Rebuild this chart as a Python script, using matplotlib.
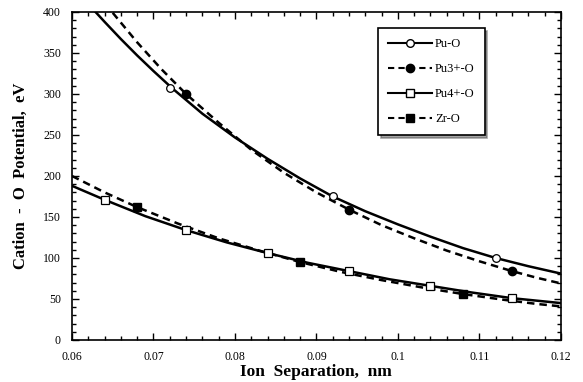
import matplotlib
matplotlib.use("Agg")
import matplotlib.pyplot as plt
from matplotlib.ticker import MultipleLocator, FixedFormatter, FixedLocator

# curve points
puo_x = [0.0628, 0.064, 0.066, 0.068, 0.070, 0.0723, 0.076, 0.080, 0.084, 0.088, 0.092, 0.096, 0.100, 0.104, 0.108, 0.112, 0.116, 0.120]
puo_y = [401, 388, 367, 347, 328, 307, 276, 247, 221, 197, 175, 157, 141, 126, 112, 100, 90, 81]
pu3_x = [0.065, 0.068, 0.071, 0.074, 0.078, 0.082, 0.086, 0.090, 0.094, 0.098, 0.102, 0.106, 0.110, 0.114, 0.117, 0.120]
pu3_y = [399, 363, 330, 300, 265, 232, 204, 180, 159, 140, 124, 109, 96, 84, 76, 69]
pu4_x = [0.060, 0.064, 0.069, 0.074, 0.079, 0.084, 0.089, 0.094, 0.099, 0.104, 0.109, 0.114, 0.117, 0.120]
pu4_y = [188, 171, 151, 134, 119, 106, 94, 84, 74, 66, 58, 51, 48, 45]
zro_x = [0.060, 0.064, 0.068, 0.073, 0.078, 0.083, 0.088, 0.093, 0.098, 0.103, 0.108, 0.113, 0.117, 0.120]
zro_y = [200, 180, 162, 142, 124, 109, 95, 83, 73, 64, 56, 49, 44, 41]

# marker positions
puo_mx = [0.072, 0.092, 0.112]
puo_my = [307, 175, 100]
pu3_mx = [0.074, 0.094, 0.114]
pu3_my = [300, 159, 84]
pu4_mx = [0.064, 0.074, 0.084, 0.094, 0.104, 0.114]
pu4_my = [171, 134, 106, 84, 66, 51]
zro_mx = [0.068, 0.088, 0.108]
zro_my = [162, 95, 56]

labels = ["Pu-O", "Pu3+-O", "Pu4+-O", "Zr-O"]
xticks = [0.06, 0.07, 0.08, 0.09, 0.10, 0.11, 0.12]
xticklabels = ["0.06", "0.07", "0.08", "0.09", "0.1", "0.11", "0.12"]
yticks = [0, 50, 100, 150, 200, 250, 300, 350, 400]

plt.rcParams['font.family'] = ['Liberation Serif', 'DejaVu Serif']

fig = plt.figure(figsize=(5.83, 3.82), dpi=100)
ax = fig.add_axes([0.1235, 0.11, 0.8385, 0.8586])

lw = 1.8
ax.plot(puo_x, puo_y, '-', color='black', lw=lw)
ax.plot(pu3_x, pu3_y, '--', color='black', lw=lw, dashes=(3, 2))
ax.plot(pu4_x, pu4_y, '-', color='black', lw=lw)
ax.plot(zro_x, zro_y, '--', color='black', lw=lw, dashes=(3, 2))

ax.plot(puo_mx, puo_my, 'o', mfc='white', mec='black', ms=5.5, mew=0.9, ls='none')
ax.plot(pu3_mx, pu3_my, 'o', mfc='black', mec='black', ms=6, ls='none')
ax.plot(pu4_mx, pu4_my, 's', mfc='white', mec='black', ms=5.5, mew=0.9, ls='none')
ax.plot(zro_mx, zro_my, 's', mfc='black', mec='black', ms=5.5, ls='none')

# legend handles
h1, = ax.plot([], [], '-', color='black', lw=1.5, marker='o', mfc='white', mec='black', ms=5.5)
h2, = ax.plot([], [], '--', color='black', lw=1.5, dashes=(3, 2), marker='o', mfc='black', ms=6)
h3, = ax.plot([], [], '-', color='black', lw=1.5, marker='s', mfc='white', mec='black', ms=5.5)
h4, = ax.plot([], [], '--', color='black', lw=1.5, dashes=(3, 2), marker='s', mfc='black', ms=5.5)
leg = ax.legend([h1, h2, h3, h4], labels, loc='upper left', bbox_to_anchor=(0.626, 0.951),
                borderaxespad=0, numpoints=1, handlelength=3.5, labelspacing=1.05, fontsize=9,
                fancybox=False, shadow=True, framealpha=1, borderpad=0.8, handletextpad=0.25)
leg.get_frame().set_edgecolor('black')
leg.get_frame().set_linewidth(1.2)

ax.set_xlim(0.06, 0.12)
ax.set_ylim(0, 400)
ax.xaxis.set_major_locator(FixedLocator(xticks))
ax.xaxis.set_major_formatter(FixedFormatter(xticklabels))
ax.xaxis.set_minor_locator(MultipleLocator(0.002))
ax.yaxis.set_major_locator(FixedLocator(yticks))
ax.yaxis.set_minor_locator(MultipleLocator(10))
ax.tick_params(which='both', direction='in', top=True, right=True, labelsize=8.5, width=1)
ax.tick_params(which='major', length=5)
ax.tick_params(which='minor', length=3)
ax.tick_params(axis='x', which='major', pad=8)
ax.tick_params(axis='y', which='major', pad=8)
for s in ax.spines.values():
    s.set_linewidth(1.2)

ax.set_xlabel("Ion  Separation,  nm", fontsize=12.5, fontweight='bold', labelpad=1)
ax.set_ylabel("Cation  -  O  Potential,  eV", fontsize=12, fontweight='bold', labelpad=10)

fig.savefig("out.png", dpi=100)
